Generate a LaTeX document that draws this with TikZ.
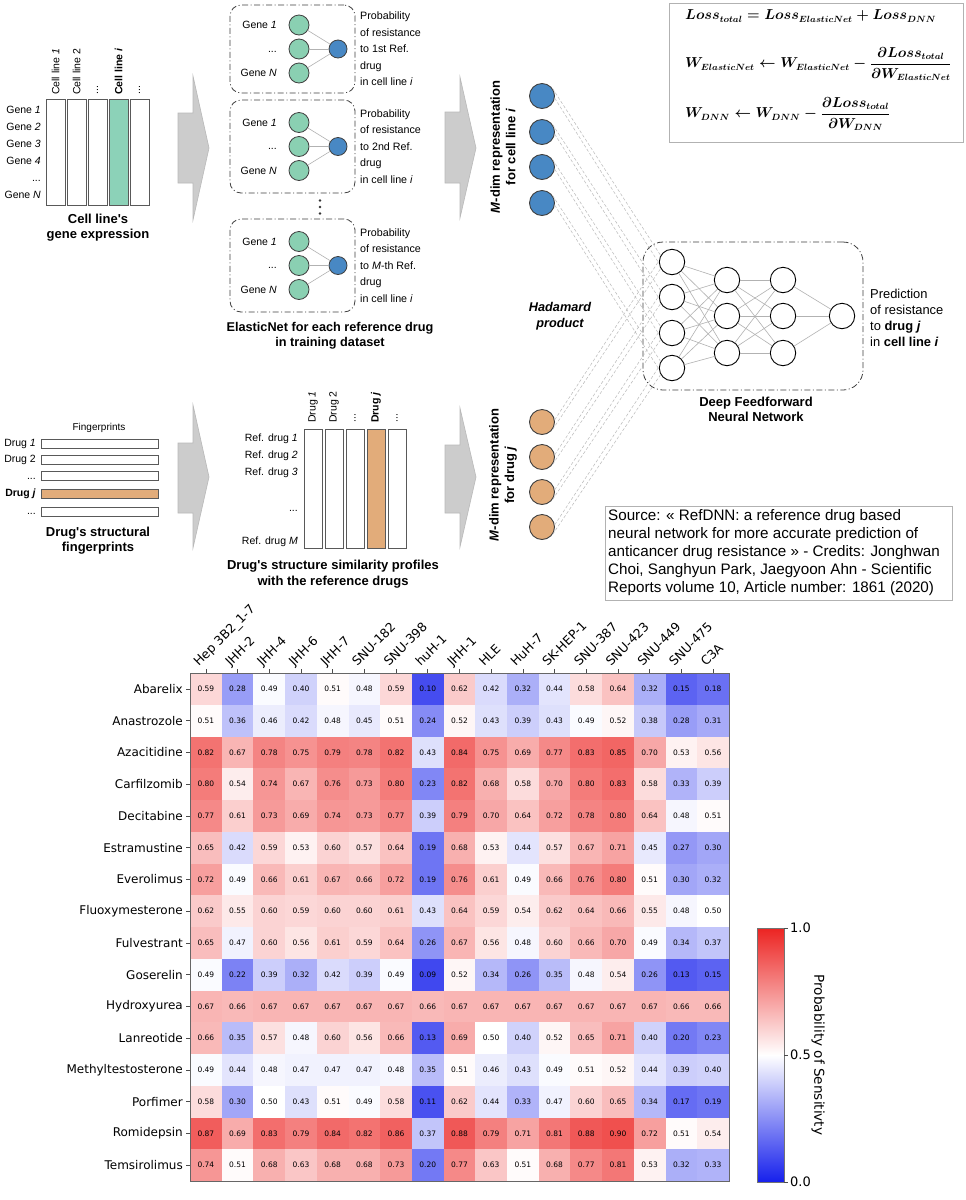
\documentclass[tikz,border=0pt]{standalone}
\usepackage{amsmath,bm}
\usepackage{fontspec}
\setmainfont{Liberation Sans}
\newfontfamily\dvs{DejaVu Sans}
\DeclareMathSizes{15}{15}{8.8}{6.5}
\definecolor{teal1}{RGB}{140,210,184}
\definecolor{elgreen}{RGB}{138,208,178}
\definecolor{mblue}{RGB}{72,136,196}
\definecolor{morange}{RGB}{226,172,122}
\definecolor{hmred}{RGB}{236,36,34}
\definecolor{hmblue}{RGB}{22,32,236}
\newsavebox\fmA
\newsavebox\fmB
\newsavebox\fmC
\tikzset{
  lbl/.style={inner sep=0pt, font=\fontsize{10.5}{12}\selectfont},
  colbox/.style={draw=black!65, line width=0.8pt, fill=white, inner sep=0pt, minimum width=18.5pt, anchor=north west},
  gcirc/.style={circle, draw=black!75, fill=elgreen, minimum size=20pt, inner sep=0pt, line width=0.8pt},
  bcirc/.style={circle, draw=black!75, fill=mblue, minimum size=18pt, inner sep=0pt, line width=0.8pt},
  mbc/.style={circle, draw=black!75, fill=mblue, minimum size=25pt, inner sep=0pt, line width=0.9pt},
  moc/.style={circle, draw=black!75, fill=morange, minimum size=25pt, inner sep=0pt, line width=0.9pt},
  dnode/.style={circle, draw=black, fill=white, minimum size=25.4pt, inner sep=0pt, line width=0.9pt},
  wire/.style={draw=gray!60, line width=0.6pt},
  hwire/.style={draw=gray!55, line width=0.5pt, dash pattern=on 3pt off 2pt},
  bigarr/.style={fill=gray!40, draw=gray!55, line width=0.6pt},
  ddbox/.style={draw=black!75, line width=0.8pt, dash pattern=on 6pt off 2.5pt on 1pt off 2.5pt, rounded corners=11pt, inner sep=0pt},
  ttl/.style={font=\bfseries\fontsize{13}{15.5}\selectfont, align=center, inner sep=0pt},
  hmcell/.style={inner sep=0pt, font=\dvs\fontsize{7.5}{9}\selectfont},
  hmlab/.style={inner sep=0pt, font=\dvs\fontsize{12}{14}\selectfont},
}
\begin{document}
\sbox\fmA{\fontsize{15}{18}\selectfont\boldmath$Loss_{total} = Loss_{ElasticNet} + Loss_{DNN}$}%
\sbox\fmB{\fontsize{15}{18}\selectfont\boldmath$W_{ElasticNet} \leftarrow W_{ElasticNet} - \dfrac{\partial Loss_{total}}{\partial W_{ElasticNet}}$}%
\sbox\fmC{\fontsize{15}{18}\selectfont\boldmath$W_{DNN} \leftarrow W_{DNN} - \dfrac{\partial Loss_{total}}{\partial W_{DNN}}$}%
\begin{tikzpicture}[x=1pt,y=-1pt]
\useasboundingbox (0,0) rectangle (966,1200);
\fill[white] (0,0) rectangle (966,1200);

% ---------------- gene expression ----------------
\node[colbox, minimum height=106pt] (ge1) at (46,99) {};
\node[colbox, minimum height=106pt] (ge2) at (67,99) {};
\node[colbox, minimum height=106pt] (ge3) at (88,99) {};
\node[colbox, minimum height=106pt, fill=teal1] (ge4) at (109,99) {};
\node[colbox, minimum height=106pt] (ge5) at (130,99) {};
\node[lbl, rotate=90, anchor=west] (gc1) at (55.5,95) {Cell line \textit{1}};
\node[lbl, rotate=90, anchor=west] (gc2) at (76.5,95) {Cell line 2};
\node[lbl, rotate=90, anchor=west] (gc3) at (97.5,95) {...};
\node[lbl, rotate=90, anchor=west] (gc4) at (118.5,95) {\textbf{Cell line \textit{i}}};
\node[lbl, rotate=90, anchor=west] (gc5) at (139.5,95) {...};
\node[lbl, anchor=east] (gr1) at (41,110) {Gene \textit{1}};
\node[lbl, anchor=east] (gr2) at (41,127) {Gene \textit{2}};
\node[lbl, anchor=east] (gr3) at (41,144) {Gene \textit{3}};
\node[lbl, anchor=east] (gr4) at (41,161) {Gene \textit{4}};
\node[lbl, anchor=base east] (gr5) at (41,181) {...};
\node[lbl, anchor=east] (gr6) at (41,195) {Gene \textit{N}};
\node[ttl] (getitle) at (98,227.5) {Cell line\textquotesingle s\\gene expression};

% ---------------- big arrows ----------------
\fill[bigarr] (178,113) -- (193,113) -- (193,76) -- (209,148) -- (193,220) -- (193,183) -- (178,183) -- cycle;
\fill[bigarr] (445,112) -- (460,112) -- (460,77) -- (476,148) -- (460,218) -- (460,183) -- (445,183) -- cycle;
\fill[bigarr] (178,443) -- (193,443) -- (193,405) -- (209,477) -- (193,548) -- (193,513) -- (178,513) -- cycle;
\fill[bigarr] (445,445) -- (460,445) -- (460,408) -- (476,477) -- (460,547) -- (460,513) -- (445,513) -- cycle;

% ---------------- ElasticNet boxes ----------------
\foreach \b/\cy/\h/\ord in {1/49/88/{to 1st Ref.}, 2/146.5/93/{to 2nd Ref.}, 3/265.5/93/{to \textit{M}-th Ref.}} {
  \node[ddbox, minimum width=125pt, minimum height=\h pt] (box\b) at (292.5,\cy) {};
  \node[gcirc] (g\b a) at (299,\cy-24) {};
  \node[gcirc] (g\b b) at (299,\cy) {};
  \node[gcirc] (g\b c) at (299,\cy+24) {};
  \node[bcirc] (o\b) at (338,\cy) {};
  \draw[wire] (g\b a) -- (o\b);
  \draw[wire] (g\b b) -- (o\b);
  \draw[wire] (g\b c) -- (o\b);
  \node[lbl, anchor=east] (gl\b a) at (277,\cy-24) {Gene \textit{1}};
  \node[lbl, anchor=base east] (gl\b b) at (277,\cy+3) {...};
  \node[lbl, anchor=east] (gl\b c) at (277,\cy+24) {Gene \textit{N}};
  \node[lbl, anchor=west, align=left, font=\fontsize{10.7}{16.5}\selectfont] (pt\b) at (360,\cy) {Probability\\of resistance\\\ord\\drug\\in cell line \textit{i}};
}
\node[circle, fill=black!80, inner sep=0pt, minimum size=2.8pt] (vd1) at (320,200.5) {};
\node[circle, fill=black!80, inner sep=0pt, minimum size=2.8pt] (vd2) at (320,207) {};
\node[circle, fill=black!80, inner sep=0pt, minimum size=2.8pt] (vd3) at (320,213.5) {};
\node[ttl, font=\bfseries\fontsize{12.7}{15}\selectfont] (entitle) at (330,335.5) {ElasticNet for each reference drug\\in training dataset};

% ---------------- formula box ----------------
\node[draw=gray!60, line width=1pt, minimum width=294pt, minimum height=139pt, anchor=north west, inner sep=0pt] (fbox) at (669,3) {};
\node[anchor=west, inner sep=0pt] (f1) at (685,16) {\usebox\fmA};
\node[anchor=west, inner sep=0pt] (f2) at (685,64) {\usebox\fmB};
\node[anchor=west, inner sep=0pt] (f3) at (685,114) {\usebox\fmC};

% ---------------- M-dim representations ----------------
\foreach \k/\y in {1/96,2/132,3/167,4/203} { \node[mbc] (mb\k) at (542,\y) {}; }
\foreach \k/\y in {1/422,2/457,3/492,4/527} { \node[moc] (mo\k) at (542,\y) {}; }
\node[ttl, rotate=90] (mbl) at (503,147) {\textit{M}-dim representation\\for cell line \textit{i}};
\node[ttl, rotate=90] (mol) at (503,475) {\textit{M}-dim representation\\for drug \textit{j}};
\node[inner sep=0pt, align=center, font=\bfseries\itshape\fontsize{12.7}{16.5}\selectfont] (hada) at (560,316) {Hadamard\\product};

% ---------------- DNN ----------------
\node[ddbox, rounded corners=20pt, minimum width=220pt, minimum height=148pt] (dnnbox) at (753,316) {};
\foreach \i/\y in {1/262,2/297,3/333,4/368} { \node[dnode] (la\i) at (672,\y) {}; }
\foreach \i/\y in {1/280,2/316,3/353} { \node[dnode] (lb\i) at (727,\y) {}; }
\foreach \i/\y in {1/280,2/316,3/353} { \node[dnode] (lc\i) at (783,\y) {}; }
\node[dnode] (out) at (842,316) {};
\foreach \i in {1,...,4} { \foreach \j in {1,2,3} { \draw[wire] (la\i) -- (lb\j); } }
\foreach \i in {1,2,3} { \foreach \j in {1,2,3} { \draw[wire] (lb\i) -- (lc\j); } }
\foreach \i in {1,2,3} { \draw[wire] (lc\i) -- (out); }
\foreach \k in {1,...,4} {
  \draw[hwire] (mb\k.35) -- (la\k.150);
  \draw[hwire] (mb\k.-10) -- (la\k.185);
  \draw[hwire] (mo\k.10) -- (la\k.175);
  \draw[hwire] (mo\k.-35) -- (la\k.210);
}
\node[lbl, anchor=west, align=left, font=\fontsize{12.9}{16}\selectfont] (pred) at (870,318) {Prediction\\of resistance\\to \textbf{drug \textit{j}}\\in \textbf{cell line \textit{i}}};
\node[ttl] (dnntitle) at (756,409.5) {Deep Feedforward\\Neural Network};

% ---------------- fingerprints ----------------
\node[lbl, font=\fontsize{10}{12}\selectfont] (fptitle) at (99,428) {Fingerprints};
\foreach \k/\y in {1/443.5,2/459.5,3/476,5/511.5} { \node[draw=black!65, line width=0.8pt, minimum width=117pt, minimum height=9pt, inner sep=0pt, anchor=west] (fp\k) at (41,\y) {}; }
\node[draw=black!65, line width=0.8pt, fill=morange, minimum width=117pt, minimum height=9pt, inner sep=0pt, anchor=west] (fp4) at (41,494) {};
\node[lbl, anchor=east] (fl1) at (36,443.5) {Drug \textit{1}};
\node[lbl, anchor=east] (fl2) at (36,459.5) {Drug 2};
\node[lbl, anchor=base east] (fl3) at (36,479) {...};
\node[lbl, anchor=east] (fl4) at (36,494) {\textbf{Drug \textit{j}}};
\node[lbl, anchor=base east] (fl5) at (36,514.5) {...};
\node[ttl] (fgtitle) at (98,540.5) {Drug\textquotesingle s structural\\fingerprints};

% ---------------- similarity profiles ----------------
\node[colbox, minimum height=119pt, minimum width=17.5pt] (sp1) at (304,429) {};
\node[colbox, minimum height=119pt, minimum width=17.5pt] (sp2) at (325,429) {};
\node[colbox, minimum height=119pt, minimum width=17.5pt] (sp3) at (346,429) {};
\node[colbox, minimum height=119pt, minimum width=17.5pt, fill=morange] (sp4) at (367,429) {};
\node[colbox, minimum height=119pt, minimum width=17.5pt] (sp5) at (388,429) {};
\node[lbl, rotate=90, anchor=west] (sc1) at (313,423) {Drug \textit{1}};
\node[lbl, rotate=90, anchor=west] (sc2) at (334,423) {Drug 2};
\node[lbl, rotate=90, anchor=west] (sc3) at (355,423) {...};
\node[lbl, rotate=90, anchor=west] (sc4) at (376,423) {\textbf{Drug \textit{j}}};
\node[lbl, rotate=90, anchor=west] (sc5) at (397,423) {...};
\node[lbl, anchor=east] (sr1) at (298,439) {Ref. drug \textit{1}};
\node[lbl, anchor=east] (sr2) at (298,456) {Ref. drug \textit{2}};
\node[lbl, anchor=east] (sr3) at (298,473) {Ref. drug \textit{3}};
\node[lbl, anchor=base east] (sr4) at (298,511) {...};
\node[lbl, anchor=east] (sr5) at (298,542) {Ref. drug \textit{M}};
\node[ttl] (sptitle) at (333,574) {Drug\textquotesingle s structure similarity profiles\\with the reference drugs};

% ---------------- source ----------------
\node[draw=gray!60, line width=0.9pt, minimum width=347pt, minimum height=94pt, anchor=north west, inner sep=0pt] (srcbox) at (605,506) {};
\node[anchor=north west, inner sep=0pt, align=left, font=\fontsize{15.2}{18}\selectfont] (src) at (608,509) {Source: « RefDNN: a reference drug based\\neural network for more accurate prediction of\\anticancer drug resistance » - Credits: Jonghwan\\Choi, Sanghyun Park, Jaegyoon Ahn - Scientific\\Reports volume 10, Article number: 1861 (2020)};

% ---------------- heatmap ----------------
\foreach \rowv [count=\r from 0] in {
{0.59,0.28,0.49,0.40,0.51,0.48,0.59,0.10,0.62,0.42,0.32,0.44,0.58,0.64,0.32,0.15,0.18},
{0.51,0.36,0.46,0.42,0.48,0.45,0.51,0.24,0.52,0.43,0.39,0.43,0.49,0.52,0.38,0.28,0.31},
{0.82,0.67,0.78,0.75,0.79,0.78,0.82,0.43,0.84,0.75,0.69,0.77,0.83,0.85,0.70,0.53,0.56},
{0.80,0.54,0.74,0.67,0.76,0.73,0.80,0.23,0.82,0.68,0.58,0.70,0.80,0.83,0.58,0.33,0.39},
{0.77,0.61,0.73,0.69,0.74,0.73,0.77,0.39,0.79,0.70,0.64,0.72,0.78,0.80,0.64,0.48,0.51},
{0.65,0.42,0.59,0.53,0.60,0.57,0.64,0.19,0.68,0.53,0.44,0.57,0.67,0.71,0.45,0.27,0.30},
{0.72,0.49,0.66,0.61,0.67,0.66,0.72,0.19,0.76,0.61,0.49,0.66,0.76,0.80,0.51,0.30,0.32},
{0.62,0.55,0.60,0.59,0.60,0.60,0.61,0.43,0.64,0.59,0.54,0.62,0.64,0.66,0.55,0.48,0.50},
{0.65,0.47,0.60,0.56,0.61,0.59,0.64,0.26,0.67,0.56,0.48,0.60,0.66,0.70,0.49,0.34,0.37},
{0.49,0.22,0.39,0.32,0.42,0.39,0.49,0.09,0.52,0.34,0.26,0.35,0.48,0.54,0.26,0.13,0.15},
{0.67,0.66,0.67,0.67,0.67,0.67,0.67,0.66,0.67,0.67,0.67,0.67,0.67,0.67,0.67,0.66,0.66},
{0.66,0.35,0.57,0.48,0.60,0.56,0.66,0.13,0.69,0.50,0.40,0.52,0.65,0.71,0.40,0.20,0.23},
{0.49,0.44,0.48,0.47,0.47,0.47,0.48,0.35,0.51,0.46,0.43,0.49,0.51,0.52,0.44,0.39,0.40},
{0.58,0.30,0.50,0.43,0.51,0.49,0.58,0.11,0.62,0.44,0.33,0.47,0.60,0.65,0.34,0.17,0.19},
{0.87,0.69,0.83,0.79,0.84,0.82,0.86,0.37,0.88,0.79,0.71,0.81,0.88,0.90,0.72,0.51,0.54},
{0.74,0.51,0.68,0.63,0.68,0.68,0.73,0.20,0.77,0.63,0.51,0.68,0.77,0.81,0.53,0.32,0.33}} {
  \foreach \v [count=\c from 0] in \rowv {
    \ifdim \v pt<0.5pt
      \pgfmathsetmacro\pp{(1-2*\v)*100}
      \colorlet{cellc}{hmblue!\pp!white}
    \else
      \pgfmathsetmacro\pp{(2*\v-1)*100}
      \colorlet{cellc}{hmred!\pp!white}
    \fi
    \fill[cellc] ({190+31.7*\c},{673+31.75*\r}) rectangle ++(31.9,31.95);
    \node[hmcell] (hm\r-\c) at ({190+31.7*(\c+0.5)},{673+31.75*(\r+0.5)}) {\v};
  }
}
\draw[black!60, line width=0.8pt] (190,673) rectangle (729,1181);
\foreach \n [count=\r from 0] in {Abarelix, Anastrozole, Azacitidine, Carfilzomib, Decitabine, Estramustine, Everolimus, Fluoxymesterone, Fulvestrant, Goserelin, Hydroxyurea, Lanreotide, Methyltestosterone, Porfimer, Romidepsin, Temsirolimus} {
  \draw[black!70, line width=0.6pt] (186,{673+31.75*(\r+0.5)}) -- (190,{673+31.75*(\r+0.5)});
  \node[hmlab, anchor=east] (rl\r) at (183,{673+31.75*(\r+0.5)}) {\n};
}
\foreach \n [count=\c from 0] in {Hep 3B2\_1-7, JHH-2, JHH-4, JHH-6, JHH-7, SNU-182, SNU-398, huH-1, JHH-1, HLE, HuH-7, SK-HEP-1, SNU-387, SNU-423, SNU-449, SNU-475, C3A} {
  \draw[black!70, line width=0.6pt] ({190+31.7*(\c+0.5)},669) -- ({190+31.7*(\c+0.5)},673);
  \node[hmlab, rotate=45, anchor=base west, font=\dvs\fontsize{12.5}{14}\selectfont] (cl\c) at ({190+31.7*(\c+0.5)-7},667) {\n};
}

% ---------------- colorbar ----------------
\shade[top color=hmred, bottom color=hmblue, middle color=white] (757,928) rectangle (784,1182);
\draw[black!55, line width=0.7pt] (757,928) rectangle (784,1182);
\foreach \tk/\y in {1.0/928, 0.5/1055, 0.0/1182} {
  \draw[black!70, line width=0.6pt] (784,\y) -- (788,\y);
  \node[hmlab, anchor=west, font=\dvs\fontsize{13}{15}\selectfont] (cb\y) at (790,\y) {\tk};
}
\node[hmlab, rotate=-90, font=\dvs\fontsize{13.6}{16}\selectfont] (cblab) at (818,1055) {Probability of Sensitivty};
\end{tikzpicture}
\end{document}
